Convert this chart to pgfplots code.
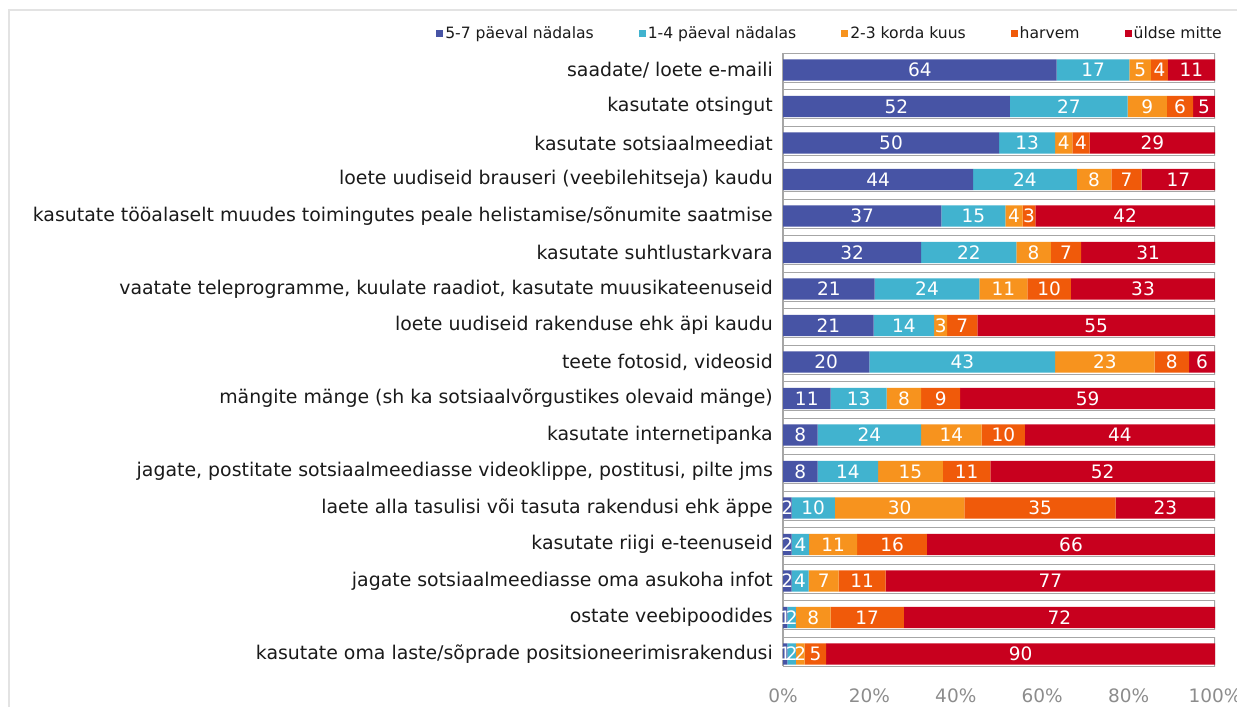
\documentclass[border=0pt]{standalone}
\usepackage{pgfplots}
\pgfplotsset{compat=1.18}
\usepackage{pgfplotstable}
\usepackage{fontspec}
\setmainfont{DejaVu Sans}
\definecolor{c1}{HTML}{4754A5}
\definecolor{c2}{HTML}{41B3CF}
\definecolor{c3}{HTML}{F7931E}
\definecolor{c4}{HTML}{F05A0A}
\definecolor{c5}{HTML}{C8001E}
\definecolor{gridg}{HTML}{A6A6A6}
\definecolor{tickg}{HTML}{8C8C8C}
\definecolor{labk}{HTML}{1A1A1A}

\pgfplotstableread{
y a b c d e tot
0 64 17 5 4 11 101
1 52 27 9 6 5 99
2 50 13 4 4 29 100
3 44 24 8 7 17 100
4 37 15 4 3 42 101
5 32 22 8 7 31 100
6 21 24 11 10 33 99
7 21 14 3 7 55 100
8 20 43 23 8 6 100
9 11 13 8 9 59 100
10 8 24 14 10 44 100
11 8 14 15 11 52 100
12 2 10 30 35 23 100
13 2 4 11 16 66 99
14 2 4 7 11 77 101
15 1 2 8 17 72 100
16 1 2 2 5 90 100
}\data

\pgfplotsset{
  base/.style={scale only axis, width=432bp, height=613bp,
    xmin=0, xmax=100, ymin=-0.4575, ymax=16.337, y dir=reverse,
    at={(783bp,40.7bp)}, anchor=south west,
    /pgf/number format/assume math mode=true},
  sqleg/.style={legend image code/.code={\fill[##1] (0bp,-3.5bp) rectangle (7bp,3.5bp);}},
  ser/.style={fill=#1, draw=none, sqleg},
  lab/.style={draw=none, mark=none, point meta=explicit,
    nodes near coords={\pgfmathprintnumber{\pgfplotspointmeta}},
    nodes near coords align={center},
    every node near coord/.append style={anchor=center, inner sep=0pt, text=white,
      font=\fontsize{18.5bp}{20bp}\selectfont}},
}

\begin{document}
\begin{tikzpicture}
\useasboundingbox (0,0) rectangle (1237bp,707bp);
\draw[gray!22, line width=1.6bp] (9bp,0) |- (1237bp,697bp);
% background row frames
\begin{axis}[base, hide x axis, axis y line*=left, ytick=\empty,
  y axis line style={gridg, line width=1.2bp},
  xbar, bar width=0.7945, bar shift=-0.06]
\addplot[fill=white, draw=gridg, line width=1.1bp] coordinates {
(100,0) (100,1) (100,2) (100,3) (100,4) (100,5) (100,6) (100,7) (100,8)
(100,9) (100,10) (100,11) (100,12) (100,13) (100,14) (100,15) (100,16)};
\end{axis}
% stacked bars
\begin{axis}[base, xbar stacked, bar width=0.586,
  axis line style={draw=none}, major tick length=0pt,
  ytick={0,...,16},
  yticklabels={saadate/ loete e-maili, kasutate otsingut, kasutate sotsiaalmeediat,
    loete uudiseid brauseri (veebilehitseja) kaudu,
    kasutate tööalaselt muudes toimingutes peale helistamise/sõnumite saatmise,
    kasutate suhtlustarkvara,
    {vaatate teleprogramme, kuulate raadiot, kasutate muusikateenuseid},
    loete uudiseid rakenduse ehk äpi kaudu, {teete fotosid, videosid},
    mängite mänge (sh ka sotsiaalvõrgustikes olevaid mänge),
    kasutate internetipanka,
    {jagate, postitate sotsiaalmeediasse videoklippe, postitusi, pilte jms},
    laete alla tasulisi või tasuta rakendusi ehk äppe,
    kasutate riigi e-teenuseid, jagate sotsiaalmeediasse oma asukoha infot,
    ostate veebipoodides, kasutate oma laste/sõprade positsioneerimisrakendusi},
  yticklabel style={anchor=east, inner sep=0pt, xshift=-10bp, text=labk,
    font=\fontsize{18.9bp}{20bp}\selectfont},
  xtick={0,20,...,100},
  xticklabel={\pgfmathprintnumber{\tick}\%},
  xticklabel style={anchor=north, inner sep=0pt, yshift=-22bp, text=tickg,
    font=\fontsize{18.5bp}{20bp}\selectfont},
  legend style={at={(1.0208,1.033)}, anchor=east, draw=none, fill=none,
    legend columns=-1, inner sep=0pt,
    font=\fontsize{15.6bp}{17bp}\selectfont, text=labk,
    /tikz/every even column/.append style={column sep=43bp}},
  legend cell align=left,
]
\addplot[ser=c1] table[x expr=\thisrow{a}*100/\thisrow{tot}, y=y]{\data};
\addplot[ser=c2] table[x expr=\thisrow{b}*100/\thisrow{tot}, y=y]{\data};
\addplot[ser=c3] table[x expr=\thisrow{c}*100/\thisrow{tot}, y=y]{\data};
\addplot[ser=c4] table[x expr=\thisrow{d}*100/\thisrow{tot}, y=y]{\data};
\addplot[ser=c5] table[x expr=\thisrow{e}*100/\thisrow{tot}, y=y]{\data};
\legend{5-7 päeval nädalas, 1-4 päeval nädalas, 2-3 korda kuus, harvem, üldse mitte}
\end{axis}
% value labels, centred in each segment
\begin{axis}[base, hide axis]
\addplot[lab] table[x expr=(\thisrow{a}/2)*100/\thisrow{tot}, y=y, meta=a]{\data};
\addplot[lab] table[x expr=(\thisrow{a}+\thisrow{b}/2)*100/\thisrow{tot}, y=y, meta=b]{\data};
\addplot[lab] table[x expr=(\thisrow{a}+\thisrow{b}+\thisrow{c}/2)*100/\thisrow{tot}, y=y, meta=c]{\data};
\addplot[lab] table[x expr=(\thisrow{a}+\thisrow{b}+\thisrow{c}+\thisrow{d}/2)*100/\thisrow{tot}, y=y, meta=d]{\data};
\addplot[lab] table[x expr=(\thisrow{a}+\thisrow{b}+\thisrow{c}+\thisrow{d}+\thisrow{e}/2)*100/\thisrow{tot}, y=y, meta=e]{\data};
\end{axis}
\end{tikzpicture}
\end{document}
